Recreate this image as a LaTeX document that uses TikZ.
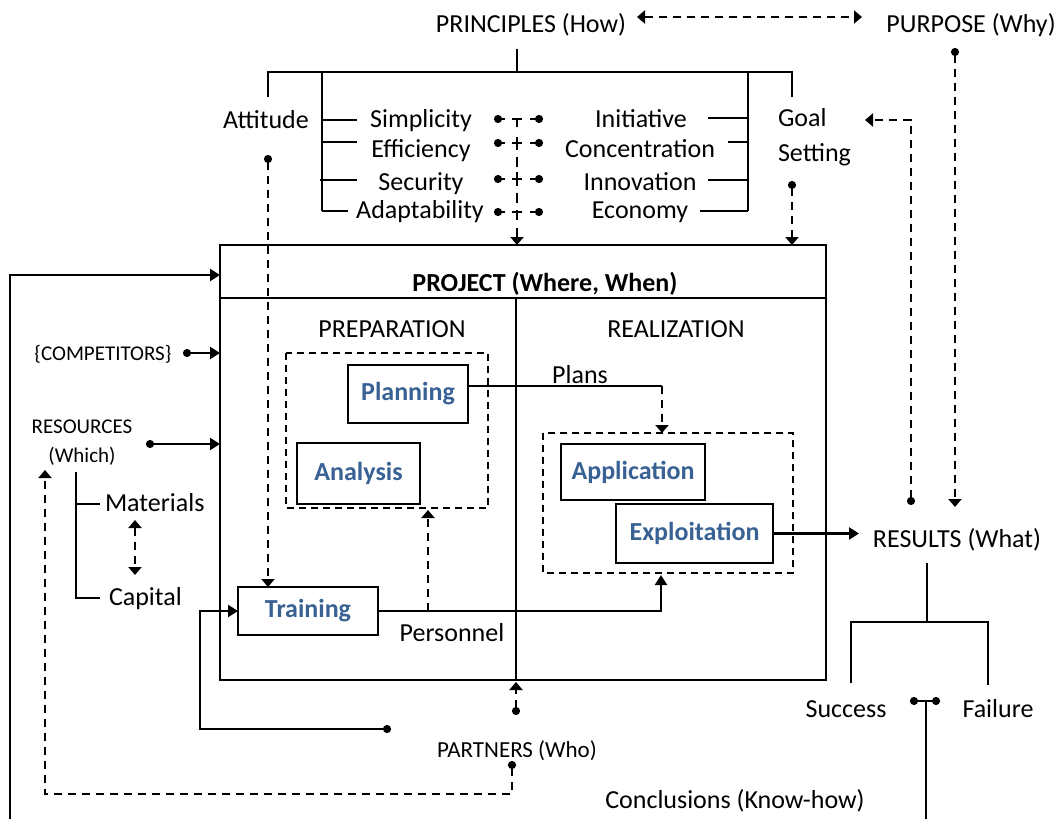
\documentclass[tikz,border=0pt]{standalone}
\usepackage{fontspec}
\setmainfont{Carlito}
\usetikzlibrary{arrows.meta}
\definecolor{boxblue}{RGB}{56,97,148}

\begin{document}
\begin{tikzpicture}[x=1pt,y=-1pt,
  every node/.style={inner sep=0pt, outer sep=0pt},
  txt/.style={anchor=base, font=\fontsize{26}{30}\selectfont},
  txtw/.style={anchor=base west, font=\fontsize{26}{30}\selectfont},
  sm/.style={anchor=base, font=\fontsize{21}{25}\selectfont},
  ln/.style={line width=2.3pt},
  br/.style={line width=2pt},
  dsh/.style={line width=2.3pt, dash pattern=on 8pt off 6pt},
  dbox/.style={line width=2pt, dash pattern=on 7pt off 5pt},
  blk/.style={draw, line width=2.3pt, font=\fontsize{26}{30}\selectfont\bfseries, text=boxblue},
  ar/.style={-{Triangle[length=10pt,width=12pt]}},
  dar/.style={-{Triangle[length=8pt,width=13pt]}},
  ddar/.style={{Triangle[length=8pt,width=13pt]}-{Triangle[length=8pt,width=13pt]}},
  dotar/.style={{Circle[length=8pt]}-{Triangle[length=10pt,width=12pt]}},
  dotdar/.style={{Circle[length=8pt]}-{Triangle[length=8pt,width=13pt]}},
  dots/.style={{Circle[length=8pt]}-{Circle[length=8pt]}},
]
\useasboundingbox (0,0) rectangle (1058,819);

% ---------- top: principles and purpose ----------
\node[txt] (principles) at (531,32) {PRINCIPLES (How)};
\node[txt] (purpose) at (971,32) {PURPOSE (Why)};
\coordinate (pp-l) at (637,17);
\coordinate (pp-r) at (862,17);
\draw[dsh, ddar] (pp-l) -- (pp-r);

\node[txt] (attitude) at (266,128) {Attitude};
\node[txt] (simpl) at (421,127) {Simplicity};
\node[txt] (effic) at (421,157) {Efficiency};
\node[txt] (secur) at (421,190) {Security};
\node[txt] (adapt) at (420,218) {Adaptability};
\node[txt] (initi) at (641,127) {Initiative};
\node[txt] (conc) at (640,157) {Concentration};
\node[txt] (innov) at (640,190) {Innovation};
\node[txt] (econ) at (640,218) {Economy};
\node[txtw] (goal) at (778,126) {Goal};
\node[txtw] (setting) at (778,161) {Setting};

% principle tree
\draw[ln] (517,49) -- (517,72);
\draw[ln] (268,97) -- (268,72) -- (792,72) -- (792,97);
\draw[br] (322,72) -- (322,211);
\draw[br] (322,120) -- (357,120);
\draw[br] (322,142) -- (357,142);
\draw[br] (320,180) -- (357,180);
\draw[br] (322,211) -- (348,211);
\draw[br] (748,72) -- (748,211);
\draw[br] (708,118) -- (748,118);
\draw[br] (728,142) -- (748,142);
\draw[br] (708,180) -- (748,180);
\draw[br] (700,211) -- (748,211);

% linked principles
\foreach \y in {119,143,179,212}{
  \draw[ln, {Circle[length=8pt]}-] (494,\y) -- (505,\y);
  \draw[ln, -{Circle[length=8pt]}] (530,\y) -- (543,\y);
  \draw[ln] (512,\y) -- (522,\y);
}
\foreach \a/\b in {119/127,137/150,157/167,172/186,193/203,210/220}
  \draw[ln] (517,\a) -- (517,\b);
\draw[ln, dar] (517,228) -- (517,245);

% ---------- project ----------
\node[draw, ln, minimum width=606pt, minimum height=435pt] (project) at (523,462.5) {};
\draw[ln] (220,298) -- (826,298);
\draw[ln] (516,298) -- (516,680);
\node[txt, font=\fontsize{26}{30}\selectfont\bfseries] (ptitle) at (545,291) {PROJECT (Where, When)};
\node[txt] (prep) at (392,337) {PREPARATION};
\node[txt] (real) at (676,337) {REALIZATION};

\draw[dbox] (286,353) rectangle (488,508);
\draw[dbox] (543,433) rectangle (793,573);

\node[blk, minimum width=120pt, minimum height=58pt] (planning) at (408,394) {Planning};
\node[blk, minimum width=123pt, minimum height=61pt] (analysis) at (358.5,473.5) {Analysis};
\node[blk, minimum width=144pt, minimum height=56pt] (application) at (633,472) {Application};
\node[blk, minimum width=157pt, minimum height=59pt] (exploitation) at (694.5,533.5) {Exploitation};
\node[blk, minimum width=140pt, minimum height=48pt] (training) at (308,611) {Training};

\node[txt] (plans) at (580,383) {Plans};
\node[txt] (personnel) at (452,641) {Personnel};

% ---------- left side ----------
\node[sm] (compet) at (103,360) {\{COMPETITORS\}};
\node[sm] (resources) at (82,433) {RESOURCES};
\node[sm] (which) at (82,462) {(Which)};
\node[txtw] (materials) at (105,511) {Materials};
\node[txtw] (capital) at (109,605) {Capital};

\draw[ln, ar] (10,819) -- (10,275) -- (220,275);
\draw[ln, dotar] (183,353) -- (220,353);
\draw[ln, dotar] (146,444) -- (220,444);
\draw[br] (76,472) -- (76,598) -- (100,598);
\draw[br] (76,504) -- (100,504);
\draw[dsh, ddar] (135,520) -- (135,575);

% ---------- bottom ----------
\node[anchor=base, font=\fontsize{23}{27}\selectfont] (partners) at (517,757) {PARTNERS (Who)};
\node[txt] (concl) at (735,808) {Conclusions (Know-how)};

% ---------- right side ----------
\node[txt] (results) at (957,547) {RESULTS (What)};
\node[txt] (success) at (846,717) {Success};
\node[txt] (failure) at (998,717) {Failure};

% ---------- connectors ----------
\draw[dsh, dotdar] (268,155) -- (268,587);
\draw[dsh, dotdar] (792,181) -- (792,245);
\draw[dsh, dotdar] (955,48) -- (955,507);
\draw[dsh, dotdar] (911,505) -- (911,120) -- (865,120);

\draw[dsh, dotdar] (512,761) -- (512,794) -- (45,794) -- (45,470);
\draw[ln, dotar] (391,729) -- (200,729) -- (200,611) -- (training.west);
\draw[ln, ar] (training.east) -- (661,611) -- (661,575);
\draw[dsh, dar] (428,611) -- (428,510);
\draw[ln] (468,386) -- (662,386);
\draw[dsh, dar] (662,386) -- (662,433);
\draw[ln, ar] (exploitation.east) -- (859,533.5);
\draw[dsh, dotdar] (516,715) -- (516,682);

\draw[br] (927,563) -- (927,622);
\draw[br] (851,683) -- (851,622) -- (988,622) -- (988,685);
\draw[ln, dots] (910,701) -- (940,701);
\draw[br] (926,701) -- (926,819);
\end{tikzpicture}
\end{document}
